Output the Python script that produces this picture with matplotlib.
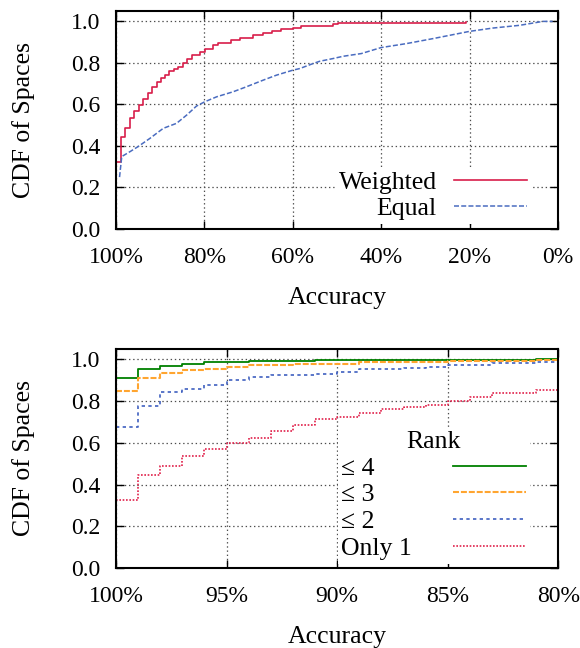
import matplotlib
matplotlib.use("Agg")
import matplotlib.pyplot as plt
from matplotlib.ticker import FixedLocator, FuncFormatter

plt.rcParams['font.family'] = ['Liberation Serif', 'DejaVu Serif']
plt.rcParams['font.size'] = 18.5
plt.rcParams['lines.scale_dashes'] = False

FS = 18.5
TICK_FS = 17

# ---------------- data: top panel ----------------
acc_weighted = [99.85, 98.9, 98.0, 96.8, 95.9, 94.8, 93.8, 92.8, 91.8, 90.8, 89.8, 88.9,
                88.0, 86.9, 85.9, 84.9, 83.9, 82.9, 80.9, 79.9, 78.0, 76.9, 73.9, 72.0,
                69.0, 66.7, 64.8, 62.6, 60.0, 58.1, 51.0, 49.8, 20.7]
cdf_weighted = [0.325, 0.445, 0.488, 0.533, 0.568, 0.597, 0.624, 0.656, 0.685, 0.709, 0.725, 0.741,
                0.761, 0.771, 0.781, 0.800, 0.821, 0.837, 0.853, 0.869, 0.888, 0.898, 0.909, 0.922,
                0.934, 0.946, 0.953, 0.962, 0.968, 0.977, 0.986, 0.992, 0.997]

acc_equal = [99.2, 98.7, 96.8, 95.0, 92.3, 89.3, 86.3, 84.0, 81.8, 79.9, 77.2, 73.5, 70.5,
             66.7, 63.7, 60.0, 58.4, 55.4, 53.9, 50.9, 48.6, 44.5, 40.0, 34.3, 28.3, 24.5,
             20.0, 14.7, 8.7, 3.4, 1.2]
cdf_equal = [0.25, 0.349, 0.373, 0.397, 0.437, 0.485, 0.509, 0.549, 0.592, 0.613, 0.637, 0.661, 0.685,
             0.717, 0.741, 0.765, 0.773, 0.797, 0.808, 0.821, 0.832, 0.845, 0.874, 0.893, 0.917, 0.933,
             0.952, 0.968, 0.981, 1.0, 1.0]

top_xticks = [100, 80, 60, 40, 20, 0]

# ---------------- data: bottom panel ----------------
acc_rank = [100, 99, 98, 97, 96, 95, 94, 93, 92, 91, 90, 89, 88, 87, 86, 85, 84, 83, 82, 81, 80]
cdf_rank4 = [0.909, 0.955, 0.970, 0.979, 0.988, 0.990, 0.992, 0.993, 0.994, 0.995, 0.995, 0.998,
             0.999, 0.999, 0.999, 0.999, 0.999, 0.999, 0.999, 1.0, 1.0]
cdf_rank3 = [0.851, 0.912, 0.935, 0.950, 0.955, 0.963, 0.972, 0.974, 0.976, 0.978, 0.979, 0.987,
             0.988, 0.989, 0.990, 0.992, 0.993, 0.993, 0.994, 0.995, 0.995]
cdf_rank2 = [0.675, 0.776, 0.843, 0.859, 0.878, 0.902, 0.915, 0.923, 0.925, 0.931, 0.941, 0.952,
             0.953, 0.957, 0.963, 0.971, 0.974, 0.981, 0.984, 0.989, 0.990]
cdf_only1 = [0.325, 0.448, 0.490, 0.536, 0.570, 0.598, 0.624, 0.657, 0.686, 0.712, 0.725, 0.741,
             0.763, 0.771, 0.781, 0.800, 0.819, 0.837, 0.837, 0.855, 0.855]

bottom_xticks = [100, 95, 90, 85, 80]
yticks = [0.0, 0.2, 0.4, 0.6, 0.8, 1.0]

fig = plt.figure(figsize=(5.8, 6.48), dpi=100)
ax1 = fig.add_axes([0.2, 0.6466, 0.762, 0.3364])
ax2 = fig.add_axes([0.2, 0.1235, 0.7628, 0.3379])

grid_kw = dict(color='0.3', linestyle=(0, (1.0, 2.0)), linewidth=0.9)


def style(ax, xlim, xticks):
    ax.set_xlim(*xlim)
    ax.set_ylim(0, 1.05)
    ax.xaxis.set_major_locator(FixedLocator(xticks))
    ax.xaxis.set_major_formatter(FuncFormatter(lambda v, p: f"{v:.0f}%"))
    ax.yaxis.set_major_locator(FixedLocator(yticks))
    ax.yaxis.set_major_formatter(FuncFormatter(lambda v, p: f"{v:.1f}"))
    ax.tick_params(direction='in', length=6, width=1.0, top=True, right=True,
                   labelsize=TICK_FS, color='black')
    ax.tick_params(axis='x', pad=13)
    ax.tick_params(axis='y', pad=11)
    ax.grid(True, **grid_kw)
    for s in ax.spines.values():
        s.set_linewidth(1.5)
        s.set_color('black')
    ax.set_ylabel("CDF of Spaces", fontsize=FS)
    ax.set_xlabel("Accuracy", fontsize=FS)
    ax.yaxis.set_label_coords(-0.183, 0.5)
    ax.xaxis.set_label_coords(0.5, -0.265)


style(ax1, (100, 0), top_xticks)
style(ax2, (100, 80), bottom_xticks)

ax1.plot(acc_weighted, cdf_weighted, drawstyle='steps-post', color='#d81e4a',
         linewidth=1.2, label='Weighted')
ax1.plot(acc_equal, cdf_equal, color='#4a6cc0', linewidth=1.1,
         linestyle=(0, (3.6, 1.6)), label='Equal')

leg1 = ax1.legend(loc='upper right', bbox_to_anchor=(0.938, 0.285), markerfirst=False,
                  frameon=True, fancybox=False, edgecolor='none', facecolor='white',
                  framealpha=1.0, borderpad=0.15, borderaxespad=0, handlelength=2.83,
                  handletextpad=0.67, labelspacing=0.14, fontsize=FS)

ax2.plot(acc_rank, cdf_rank4, drawstyle='steps-post', color='#008000', linewidth=1.3,
         label='≤ 4')
ax2.plot(acc_rank, cdf_rank3, drawstyle='steps-post', color='#ffa530', linewidth=1.5,
         linestyle=(0, (4.3, 1.4)), label='≤ 3')
ax2.plot(acc_rank, cdf_rank2, drawstyle='steps-post', color='#4060c0', linewidth=1.2,
         linestyle=(0, (2.4, 2.4)), label='≤ 2')
ax2.plot(acc_rank, cdf_only1, drawstyle='steps-post', color='#e0204a', linewidth=1.2,
         linestyle=(0, (1.2, 1.2)), label='Only 1')

leg2 = ax2.legend(loc='upper right', bbox_to_anchor=(0.935, 0.643), markerfirst=False,
                  title='Rank', title_fontsize=FS,
                  frameon=True, fancybox=False, edgecolor='none', facecolor='white',
                  framealpha=1.0, borderpad=0.15, borderaxespad=0, handlelength=2.82,
                  handletextpad=1.6, labelspacing=0.145, fontsize=FS)

# left-justify the bottom legend texts while keeping the samples aligned
fig.canvas.draw()
renderer = fig.canvas.get_renderer()
widths = [t.get_window_extent(renderer).width for t in leg2.texts]
maxw = max(widths)
col = leg2._legend_handle_box.get_children()[0]
p2p = renderer.points_to_pixels(1.0)
for item, w in zip(col.get_children(), widths):
    item.sep += (maxw - w) / p2p

fig.savefig("out.png", dpi=100)
